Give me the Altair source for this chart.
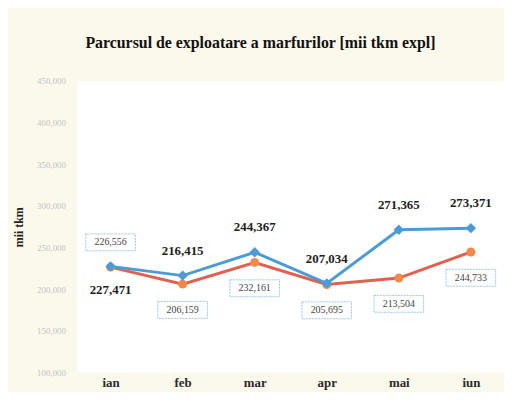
import altair as alt
import pandas as pd

months = ["ian", "feb", "mar", "apr", "mai", "iun"]
serie_a = [227471, 216415, 244367, 207034, 271365, 273371]   # blue line
serie_b = [226556, 206159, 232161, 205695, 213504, 244733]   # orange line
y_ticks = [100000, 150000, 200000, 250000, 300000, 350000, 400000, 450000]

df = pd.DataFrame({
    "luna": months * 2,
    "valoare": serie_a + serie_b,
    "serie": ["a"] * 6 + ["b"] * 6,
})

SERIF = "Liberation Serif"
BLUE = "#4b9bd8"
RED = "#e0614f"
ORANGE = "#f2884a"

x = alt.X("luna:N", sort=months, scale=alt.Scale(type="point", padding=0.46),
          axis=alt.Axis(title=None, labelFont=SERIF, labelFontWeight="bold",
                        labelFontSize=13, labelColor="#2a2a2a", labelAngle=0,
                        ticks=False, domain=False, labelPadding=4))
y = alt.Y("valoare:Q", scale=alt.Scale(domain=[100000, 450000], nice=False, zero=False),
          axis=alt.Axis(values=y_ticks, labelExpr="format(datum.value, ',')",
                        title="mii tkm", titleFont=SERIF,
                        titleFontWeight="bold", titleFontSize=12, titleColor="#222",
                        titleX=-52, labelFont=SERIF, labelFontSize=9,
                        labelColor="#c4c4c4", ticks=False, domain=False, grid=False,
                        labelPadding=12))

base = alt.Chart(df).encode(x=x, y=y)

line_a = base.transform_filter("datum.serie == 'a'").mark_line(color=BLUE, strokeWidth=3)
line_b = base.transform_filter("datum.serie == 'b'").mark_line(color=RED, strokeWidth=3)
pts_a = base.transform_filter("datum.serie == 'a'").mark_point(
    shape="diamond", filled=True, color=BLUE, size=110, opacity=1)
pts_b = base.transform_filter("datum.serie == 'b'").mark_point(
    shape="circle", filled=True, color=ORANGE, size=80, opacity=1)

lab_a_style = dict(font=SERIF, fontWeight="bold", fontSize=13, color="#1e1e1e")
lab_a_up = base.transform_filter("datum.serie == 'a' && datum.luna != 'ian'").mark_text(
    dy=-25, **lab_a_style).encode(text=alt.Text("valoare:Q", format=","))
lab_a_dn = base.transform_filter("datum.serie == 'a' && datum.luna == 'ian'").mark_text(
    dy=24, **lab_a_style).encode(text=alt.Text("valoare:Q", format=","))

box_shape = "M-1,-0.34L1,-0.34L1,0.34L-1,0.34Z"
box_style = dict(shape=box_shape, size=2500, filled=True, fill="white",
                 stroke="#9fc6e8", strokeWidth=1, strokeDash=[2, 1], opacity=1)
lab_b_style = dict(font=SERIF, fontSize=10, color="#444444")

b_dn = base.transform_filter("datum.serie == 'b' && datum.luna != 'ian'")
b_up = base.transform_filter("datum.serie == 'b' && datum.luna == 'ian'")
box_b_dn = b_dn.mark_point(yOffset=26, **box_style)
box_b_up = b_up.mark_point(yOffset=-25, **box_style)
lab_b_dn = b_dn.mark_text(dy=26, **lab_b_style).encode(text=alt.Text("valoare:Q", format=","))
lab_b_up = b_up.mark_text(dy=-25, **lab_b_style).encode(text=alt.Text("valoare:Q", format=","))

chart = alt.layer(
    line_b, line_a, pts_b, pts_a,
    box_b_dn, box_b_up, lab_b_dn, lab_b_up,
    lab_a_up, lab_a_dn,
).properties(
    width=430,
    height=294,
    title=alt.TitleParams("Parcursul  de exploatare a marfurilor [mii tkm expl]",
                          font=SERIF, fontSize=16, fontWeight="bold", color="#111",
                          anchor="start", frame="group", dx=8, offset=26),
    autosize=alt.AutoSizeParams(type="none"),
    padding={"left": 70, "top": 72, "right": 0, "bottom": 18},
    background="#fbf8ec",
).configure_view(fill="white", stroke=None)

chart.save("out.html", embed_options={"renderer": "svg", "actions": False})
